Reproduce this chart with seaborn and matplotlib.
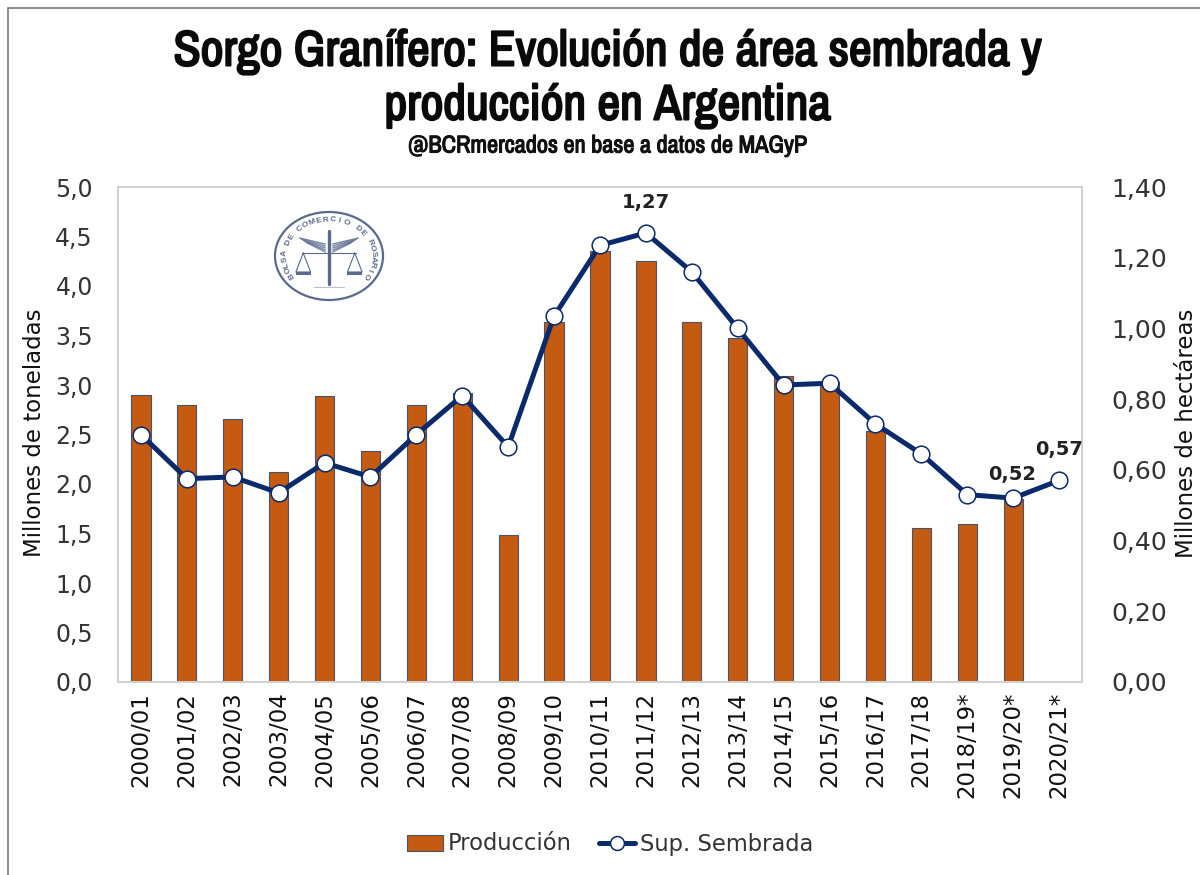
import numpy as np
import pandas as pd
import matplotlib
matplotlib.use("Agg")
import matplotlib.pyplot as plt
import matplotlib.patheffects as pe
from matplotlib.lines import Line2D
from matplotlib.patches import Patch, Circle, Rectangle
import seaborn as sns

campaigns = ["2000/01","2001/02","2002/03","2003/04","2004/05","2005/06","2006/07",
             "2007/08","2008/09","2009/10","2010/11","2011/12","2012/13","2013/14",
             "2014/15","2015/16","2016/17","2017/18","2018/19*","2019/20*","2020/21*"]
produccion = [2.90,2.80,2.66,2.12,2.89,2.33,2.80,2.92,1.48,3.64,4.35,4.25,3.64,3.47,
              3.09,3.03,2.54,1.56,1.60,1.85,np.nan]
superficie = [0.70,0.575,0.58,0.535,0.62,0.58,0.70,0.81,0.665,1.035,1.235,1.27,1.16,1.00,
              0.84,0.845,0.73,0.645,0.53,0.52,0.57]
point_labels = {"2011/12":"1,27","2019/20*":"0,52","2020/21*":"0,57"}
left_ticks = [0,0.5,1,1.5,2,2.5,3,3.5,4,4.5,5]
right_ticks = [0,0.2,0.4,0.6,0.8,1.0,1.2,1.4]
title_text = "Sorgo Granífero: Evolución de área sembrada y\nproducción en Argentina"
subtitle_text = "@BCRmercados en base a datos de MAGyP"
seal_text = "BOLSA DE COMERCIO DE ROSARIO"

BAR = "#C55A11"; EDGE = "#44546A"; NAVY = "#0B2A6B"; TXT = "#333333"
W, H = 1200, 875
df = pd.DataFrame({"campana":campaigns,"produccion":produccion,"superficie":superficie})

sns.set_theme(style="white")
plt.rcParams["font.family"] = ["DejaVu Sans"]
fig = plt.figure(figsize=(12,8.75), dpi=100, facecolor="white")
ax = fig.add_axes([118/W, 1-682/H, 964/W, 495/H])

sns.barplot(data=df, x="campana", y="produccion", ax=ax, color=BAR, saturation=1,
            width=0.42, edgecolor=EDGE, linewidth=0.8)
ax.set_xlim(-0.5,20.5); ax.set_ylim(0,5)
ax.set_yticks(left_ticks)
ax.set_yticklabels([f"{v:.1f}".replace(".",",") for v in left_ticks], fontsize=17, color=TXT)
ax.set_xticks(range(len(campaigns)))
ax.set_xticklabels(campaigns, rotation=90, fontsize=16.5, color="#111111")
ax.set_xlabel(""); ax.set_ylabel("Millones de toneladas", fontsize=16.5, color="#111111")
ax.yaxis.set_label_coords((46-118)/964, (682-433)/495)
ax.tick_params(axis="y", length=0, pad=18)
ax.tick_params(axis="x", length=0, pad=7)

ax2 = ax.twinx()
sns.lineplot(data=df, x="campana", y="superficie", ax=ax2, color=NAVY, linewidth=3.6,
             marker="o", markersize=12, markerfacecolor="white", markeredgecolor=NAVY,
             markeredgewidth=1.1, sort=False, errorbar=None)
ax2.set_ylim(0,1.4)
ax2.set_yticks(right_ticks)
ax2.set_yticklabels([f"{v:.2f}".replace(".",",") for v in right_ticks], fontsize=18, color=TXT)
ax2.set_ylabel("Millones de hectáreas", fontsize=16.5, color="#111111")
ax2.yaxis.set_label_position("right")
ax2.yaxis.set_label_coords((1175-118)/964, (682-433)/495)
ax2.tick_params(axis="y", length=0, pad=21)
ax2.grid(False); ax.grid(False)
for a in (ax,ax2):
    for s in a.spines.values():
        s.set_color("#D0D0D0"); s.set_linewidth(1.2)

offsets = {"1,27":(0,22),"0,52":(-1,17),"0,57":(0,22)}
for c, txt in point_labels.items():
    ax2.annotate(txt, (campaigns.index(c), superficie[campaigns.index(c)]),
                 xytext=offsets[txt], textcoords="offset points", ha="center", va="center",
                 fontsize=14, fontweight="bold", color="#222222")

NARROW = ["Archivo Narrow","Liberation Sans"]
fig.text(608/W, 1-79/H, title_text, ha="center", va="center", fontsize=35.8,
         fontweight="bold", family=NARROW, color="#0a0a0a", linespacing=1.25,
         path_effects=[pe.withStroke(linewidth=1.5, foreground="#0a0a0a")])
fig.text(608/W, 1-146/H, subtitle_text, ha="center", va="center", fontsize=17.5,
         fontweight="bold", family=NARROW, color="#111111",
         path_effects=[pe.withStroke(linewidth=0.8, foreground="#111111")])

handles = [Patch(facecolor=BAR, edgecolor=EDGE, linewidth=0.8, label="Producción"),
           Line2D([],[],color=NAVY,lw=3.6,marker="o",ms=10,mfc="white",mec=NAVY,mew=1.1,label="Sup. Sembrada")]
fig.legend(handles=handles, loc="center", bbox_to_anchor=(610/W, 1-844/H), ncol=2, frameon=False,
           fontsize=16.3, handlelength=1.6, handletextpad=0.2, columnspacing=1.2,
           labelcolor="#333333")

# Seal of the exchange
seal = fig.add_axes([268/W, 1-306/H, 122/W, 100/H]); seal.axis("off")
seal.set_xlim(-49.7,49.7); seal.set_ylim(-50,50); seal.set_zorder(5)
SC = "#5A6A8C"
seal.add_patch(Circle((0,0),44,fill=False,ec=SC,lw=1.6))
angles = np.linspace(212,-32,len(seal_text))
for ch, a in zip(seal_text, angles):
    r = np.radians(a)
    seal.text(36*np.cos(r),36*np.sin(r),ch,rotation=a-90,ha="center",va="center",
              fontsize=6,color=SC,family="Liberation Sans",fontweight="bold")
for k in range(5):
    seal.plot([-24+k*1.5,-3],[18-k*1.2,12-k*2],color=SC,lw=1,alpha=.8)
    seal.plot([24-k*1.5,3],[18-k*1.2,12-k*2],color=SC,lw=1,alpha=.8)
seal.plot([0,0],[25,-28],color=SC,lw=2.4)
seal.plot([-22,22],[3,3],color=SC,lw=0.8)
for sx in (-21,21):
    seal.plot([sx,sx-6,sx+6,sx],[3,-16,-16,3],color=SC,lw=0.8)
    seal.fill_between([sx-6,sx+6],[-16,-16],[-19,-19],color=SC,lw=0)
seal.plot([-12,12],[-31,-31],color="#B8C0D0",lw=0.8)

fig.add_artist(Rectangle((8/W,-0.01),1.2,1-8/H+0.01,transform=fig.transFigure,fill=False,ec="#7a7a7a",lw=1.2))
fig.savefig("out.png", dpi=100)
